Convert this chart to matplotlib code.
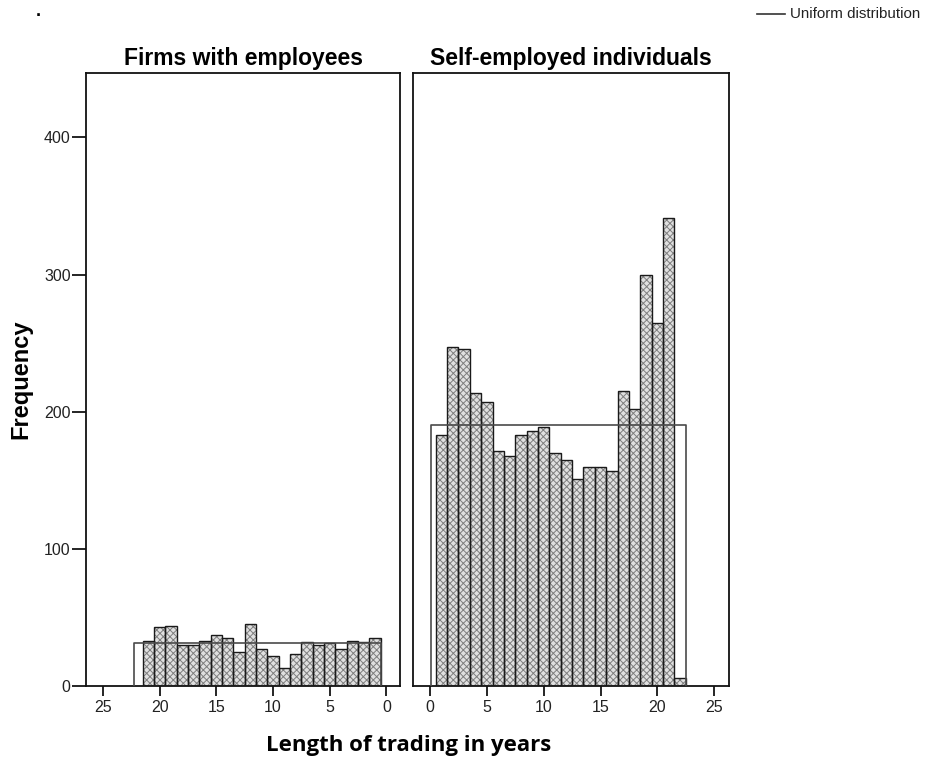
import numpy as np
import matplotlib
matplotlib.use("Agg")
import matplotlib.pyplot as plt

plt.rcParams['font.family'] = ['Liberation Sans', 'DejaVu Sans']
plt.rcParams['hatch.linewidth'] = 0.7

# Frequencies per 1-year bin, bins centred on 1, 2, 3 ... years
firm_years = np.arange(1, 22)
firm_freq = [35, 32, 33, 27, 31, 30, 32, 23, 13, 22, 27, 45, 25, 35, 37,
             33, 30, 30, 44, 43, 33]

self_years = np.arange(1, 23)
self_freq = [183, 247, 246, 214, 207, 171, 168, 183, 186, 189, 170, 165,
             151, 160, 160, 157, 215, 202, 300, 265, 341, 6]

# uniform reference: (start, end, height)
firm_uniform = (0.5, 22.3, 31)
self_uniform = (0.1, 22.5, 190)

panel_titles = ["Firms with employees", "Self-employed individuals"]
x_ticks = [0, 5, 10, 15, 20, 25]
y_ticks = [0, 100, 200, 300, 400]

fig = plt.figure(figsize=(9.36, 7.61), dpi=100)
ax1 = fig.add_axes([0.0919, 0.0986, 0.3355, 0.8055])
ax2 = fig.add_axes([0.4412, 0.0986, 0.3376, 0.8055])


def draw_panel(ax, years, freq, uniform, title):
    # patterned fill first, then plain black outlines on top
    ax.bar(years, freq, width=1.0, color='#e0e0e0', edgecolor='#7e7e7e',
           hatch='xxxxx', linewidth=0, zorder=2)
    ax.bar(years, freq, width=1.0, fill=False, edgecolor='#1a1a1a',
           linewidth=1.0, zorder=3)
    x0, x1, h = uniform
    ax.plot([x0, x0, x1, x1], [0, h, h, 0], color='#4a4a4a', lw=1.2, zorder=4)
    ax.set_ylim(0, 447)
    ax.set_xticks(x_ticks)
    ax.tick_params(axis='x', direction='out', length=7, width=1.2,
                   labelsize=11.5, labelcolor='#222222', pad=3)
    for s in ax.spines.values():
        s.set_linewidth(1.3)
        s.set_color('#111111')
    ax.set_title(title, fontsize=16.5, fontweight='bold', pad=6)


draw_panel(ax1, firm_years, firm_freq, firm_uniform, panel_titles[0])
draw_panel(ax2, self_years, self_freq, self_uniform, panel_titles[1])

ax1.set_xlim(26.5, -1.2)
ax2.set_xlim(-1.5, 26.3)

ax1.set_yticks(y_ticks)
ax1.tick_params(axis='y', direction='out', length=10, width=1.2,
                labelsize=11.5, labelcolor='#222222', pad=1)
ax1.set_ylabel("Frequency", fontsize=17, fontweight='bold')
ax1.yaxis.set_label_coords(-0.17, 0.5)
ax2.set_yticks([])

fig.text(0.437, 0.021, "Length of trading in years", fontsize=16,
         fontweight='bold', family=['Open Sans', 'DejaVu Sans'],
         ha='center', va='center')

# legend entry in the top right corner
fig.add_artist(plt.Line2D([0.809, 0.839], [0.982, 0.982], color='#333333', lw=1.2))
fig.text(0.844, 0.982, "Uniform distribution", fontsize=10.9, va='center',
         color='#222222')
fig.text(0.038, 0.985, ".", fontsize=13, fontweight='bold', va='center')

fig.savefig("out.png", dpi=100)
